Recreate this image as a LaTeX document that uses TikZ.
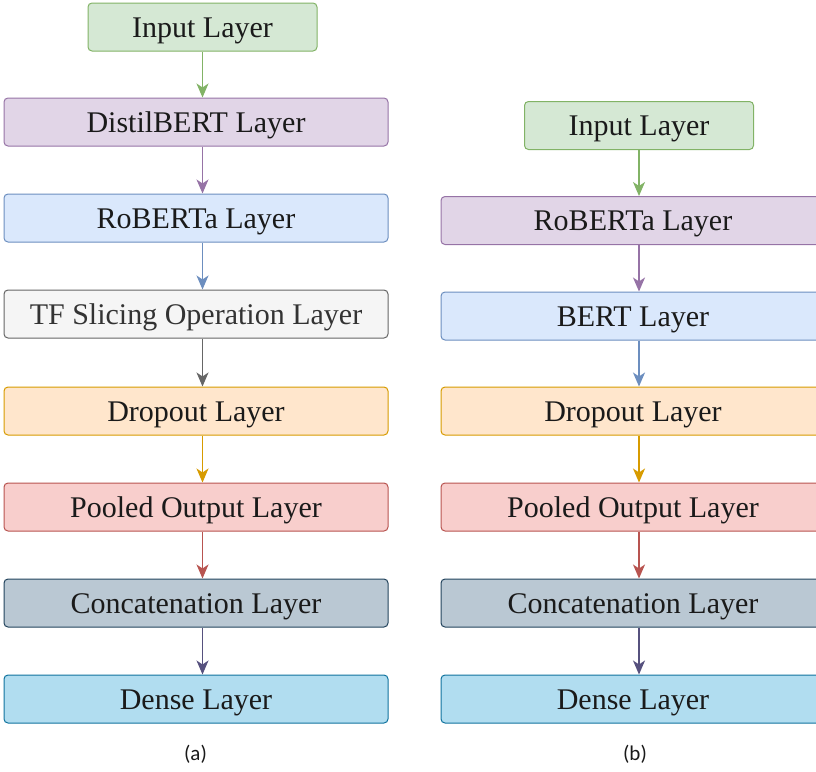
\documentclass[tikz,border=0pt]{standalone}
\usepackage{fontspec}
\setmainfont{Liberation Serif}
\newfontfamily\capfont{Carlito}
\usetikzlibrary{arrows.meta}
\definecolor{gF}{HTML}{D5E8D4}\definecolor{gS}{HTML}{82B366}
\definecolor{pF}{HTML}{E1D5E7}\definecolor{pS}{HTML}{9673A6}
\definecolor{bF}{HTML}{DAE8FC}\definecolor{bS}{HTML}{6C8EBF}
\definecolor{kF}{HTML}{F5F5F5}\definecolor{kS}{HTML}{666666}\definecolor{kT}{HTML}{333333}
\definecolor{oF}{HTML}{FFE6CC}\definecolor{oS}{HTML}{D79B00}
\definecolor{rF}{HTML}{F8CECC}\definecolor{rS}{HTML}{B85450}
\definecolor{sF}{HTML}{BAC8D3}\definecolor{sS}{HTML}{23445D}\definecolor{sA}{HTML}{56517E}
\definecolor{cF}{HTML}{B1DDF0}\definecolor{cS}{HTML}{10739E}
\definecolor{txt}{HTML}{1A1A1A}
\tikzset{
  layer/.style={draw, rounded corners=4pt, minimum width=384pt, minimum height=48pt,
    inner sep=0pt, line width=1pt, text=txt, text height=24pt, text depth=4pt,
    font=\fontsize{30}{30}\selectfont},
  small/.style={layer, minimum width=229pt},
  arr/.style={line width=1.3pt, -{Stealth[length=14pt,width=12pt,inset=4pt]}},
  figcap/.style={font=\capfont\fontsize{21}{22}\selectfont, text=txt}
}
\begin{document}
\begin{tikzpicture}[x=1pt,y=-1pt]
\useasboundingbox (0,0) rectangle (816,771);
\clip (0,0) rectangle (816,771);
% left column
\node[small, fill=gF, draw=gS] (a0) at (202.5,27) {Input Layer};
\node[layer, fill=pF, draw=pS] (a1) at (196,122) {DistilBERT Layer};
\node[layer, fill=bF, draw=bS] (a2) at (196,218) {RoBERTa Layer};
\node[layer, fill=kF, draw=kS, text=kT] (a3) at (196,314) {TF Slicing Operation Layer};
\node[layer, fill=oF, draw=oS] (a4) at (196,411) {Dropout Layer};
\node[layer, fill=rF, draw=rS] (a5) at (196,507) {Pooled Output Layer};
\node[layer, fill=sF, draw=sS] (a6) at (196,603) {Concatenation Layer};
\node[layer, fill=cF, draw=cS] (a7) at (196,699) {Dense Layer};
\node[figcap] (ca) at (195.5,754) {(a)};
\draw[arr, draw=gS] (a0.south) -- (a1.north -| a0.south);
\draw[arr, draw=pS] (a1.south -| a0.south) -- (a2.north -| a0.south);
\draw[arr, draw=bS] (a2.south -| a0.south) -- (a3.north -| a0.south);
\draw[arr, draw=kS] (a3.south -| a0.south) -- (a4.north -| a0.south);
\draw[arr, draw=oS] (a4.south -| a0.south) -- (a5.north -| a0.south);
\draw[arr, draw=rS] (a5.south -| a0.south) -- (a6.north -| a0.south);
\draw[arr, draw=sA] (a6.south -| a0.south) -- (a7.north -| a0.south);
% right column
\node[small, fill=gF, draw=gS] (b0) at (639,125.5) {Input Layer};
\node[layer, fill=pF, draw=pS] (b1) at (633,220.5) {RoBERTa Layer};
\node[layer, fill=bF, draw=bS] (b2) at (633,316) {BERT Layer};
\node[layer, fill=oF, draw=oS] (b3) at (633,411) {Dropout Layer};
\node[layer, fill=rF, draw=rS] (b4) at (633,507) {Pooled Output Layer};
\node[layer, fill=sF, draw=sS] (b5) at (633,603) {Concatenation Layer};
\node[layer, fill=cF, draw=cS] (b6) at (633,699) {Dense Layer};
\node[figcap] (cb) at (635,754) {(b)};
\draw[arr, draw=gS] (b0.south) -- (b1.north -| b0.south);
\draw[arr, draw=pS] (b1.south -| b0.south) -- (b2.north -| b0.south);
\draw[arr, draw=bS] (b2.south -| b0.south) -- (b3.north -| b0.south);
\draw[arr, draw=oS] (b3.south -| b0.south) -- (b4.north -| b0.south);
\draw[arr, draw=rS] (b4.south -| b0.south) -- (b5.north -| b0.south);
\draw[arr, draw=sA] (b5.south -| b0.south) -- (b6.north -| b0.south);
\end{tikzpicture}
\end{document}
